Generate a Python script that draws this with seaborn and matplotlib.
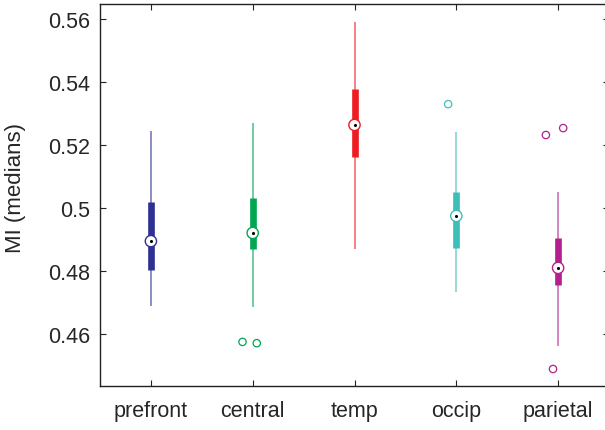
import matplotlib
matplotlib.use("Agg")
import matplotlib.pyplot as plt
import matplotlib.ticker as mticker
import numpy as np
import pandas as pd
import seaborn as sns

# box summary per region
regions = ["prefront", "central", "temp", "occip", "parietal"]
colors = ["#2E3192", "#00A651", "#ED1C24", "#3CBFB9", "#B3218E"]
medians = [0.4895, 0.4921, 0.5264, 0.4975, 0.4810]
q1 = [0.4803, 0.4870, 0.5162, 0.4873, 0.4756]
q3 = [0.5019, 0.5032, 0.5378, 0.5051, 0.4905]
whisk_lo = [0.4689, 0.4686, 0.4870, 0.4733, 0.4562]
whisk_hi = [0.5244, 0.5270, 0.5591, 0.5241, 0.5051]

# outliers
out_region = ["central", "central", "occip", "parietal", "parietal", "parietal"]
out_value = [0.4575, 0.4571, 0.5330, 0.5232, 0.5254, 0.4489]
out_jitter = [-0.10, 0.04, -0.08, -0.12, 0.05, -0.05]

sns.set_style("ticks")
plt.rcParams["font.family"] = ["Liberation Sans", "DejaVu Sans"]
plt.rcParams["xtick.direction"] = "in"
plt.rcParams["ytick.direction"] = "in"

pal = dict(zip(regions, colors))
pos = {r: i for i, r in enumerate(regions)}

stats = pd.DataFrame({"region": regions, "x": range(len(regions)), "med": medians,
                      "q1": q1, "q3": q3, "lo": whisk_lo, "hi": whisk_hi})
outl = pd.DataFrame({"region": out_region, "value": out_value, "jit": out_jitter})
outl["x"] = outl["region"].map(pos) + outl["jit"]

fig = plt.figure(figsize=(6.05, 4.31), dpi=100)
ax = fig.add_axes([100 / 605, 44 / 431, 509 / 605, 382 / 431])

# whiskers (thin, a bit lighter) and boxes
ax.vlines(stats["x"], stats["lo"], stats["hi"], colors=colors, linewidth=1.1,
          alpha=0.7, zorder=2)
ax.vlines(stats["x"], stats["q1"], stats["q3"], colors=colors, linewidth=4.8, zorder=3)

# outliers: open circles
sns.scatterplot(data=outl, x="x", y="value", hue="region", palette=pal, s=28,
                linewidth=0.9, legend=False, ax=ax, zorder=4)
coll = ax.collections[-1]
coll.set_edgecolors(coll.get_facecolors())
coll.set_facecolors("none")

# median markers: white circle with coloured ring and a black dot
sns.scatterplot(data=stats, x="x", y="med", hue="region", palette=pal, s=66,
                linewidth=1.0, legend=False, ax=ax, zorder=5)
coll = ax.collections[-1]
coll.set_edgecolors(coll.get_facecolors())
coll.set_facecolors("white")
sns.scatterplot(data=stats, x="x", y="med", color="black", s=5, linewidth=0,
                legend=False, ax=ax, zorder=6)

ax.set_xlim(-0.5, 4.5)
ax.set_ylim(0.4435, 0.5648)
ax.set_xticks(range(len(regions)))
ax.set_xticklabels(regions)
ax.set_yticks([0.46, 0.48, 0.50, 0.52, 0.54, 0.56])
ax.yaxis.set_major_formatter(mticker.FormatStrFormatter("%g"))
ax.tick_params(axis="both", labelsize=15.5, length=4, width=0.8, color="#222222",
               top=True, right=True)
ax.tick_params(axis="x", pad=10)
ax.tick_params(axis="y", pad=7)
ax.set_xlabel("")
ax.set_ylabel("MI (medians)", fontsize=16)
ax.yaxis.set_label_coords(-0.145, 0.52)
for s in ax.spines.values():
    s.set_linewidth(1.0)
    s.set_color("#222222")

fig.savefig("out.png", dpi=100)
